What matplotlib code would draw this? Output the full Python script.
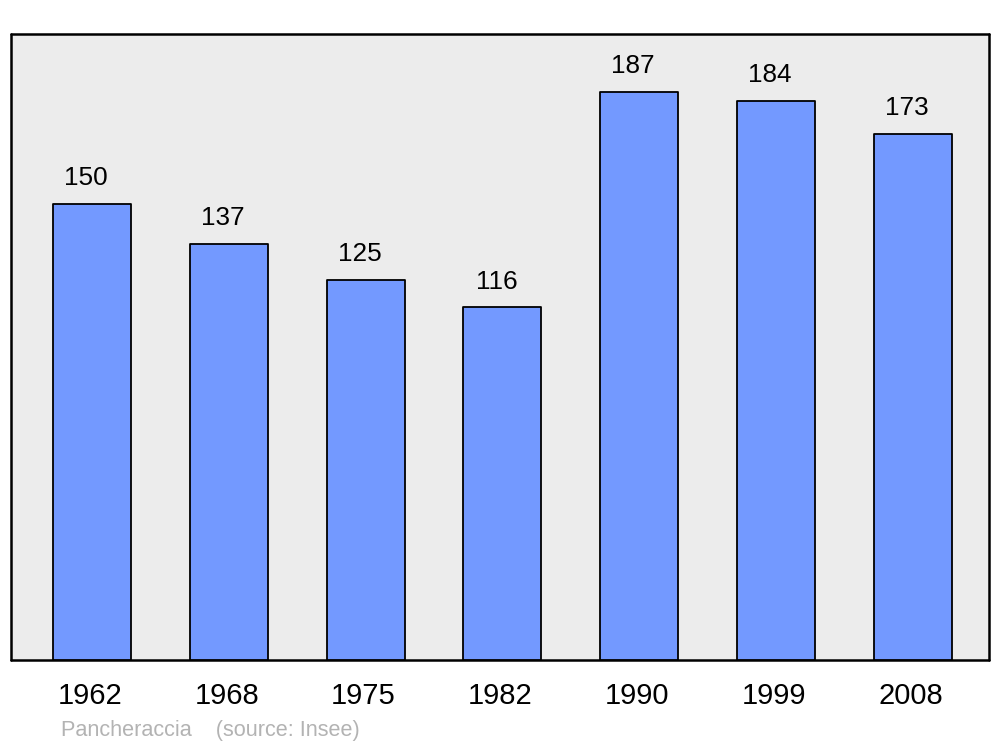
import matplotlib
matplotlib.use("Agg")
import matplotlib.pyplot as plt
from matplotlib.transforms import ScaledTranslation

years = ["1962", "1968", "1975", "1982", "1990", "1999", "2008"]
population = [150, 137, 125, 116, 187, 184, 173]

plt.rcParams["font.family"] = ["Liberation Sans", "DejaVu Sans"]

fig = plt.figure(figsize=(10, 7.47), dpi=100)
ax = fig.add_axes([0.011, 0.1165, 0.978, 0.838])
ax.set_facecolor("#ececec")

x = range(len(years))
ax.bar(x, population, width=0.57, color="#7399ff", edgecolor="black",
       linewidth=1.3, joinstyle="round", zorder=3)
for xi, v in zip(x, population):
    ax.annotate(str(v), (xi, v), xytext=(-4.3, 10), textcoords="offset points",
                ha="center", va="bottom", fontsize=18.8)

ax.set_xlim(-0.592, 6.557)
ax.set_ylim(0, 206)
ax.set_yticks([])
ax.set_xticks(list(x))
ax.set_xticklabels(years, fontsize=21)
ax.tick_params(axis="x", length=0, pad=16)
shift = ScaledTranslation(-2 / 100, 0, fig.dpi_scale_trans)
for lbl in ax.get_xticklabels():
    lbl.set_transform(lbl.get_transform() + shift)
for s in ax.spines.values():
    s.set_linewidth(1.8)
    s.set_capstyle("round")

fig.text(0.061, 0.0215, "Pancheraccia    (source: Insee)", color="#b3b3b3",
         fontsize=15.6, va="center")

fig.savefig("out.png", dpi=100)
